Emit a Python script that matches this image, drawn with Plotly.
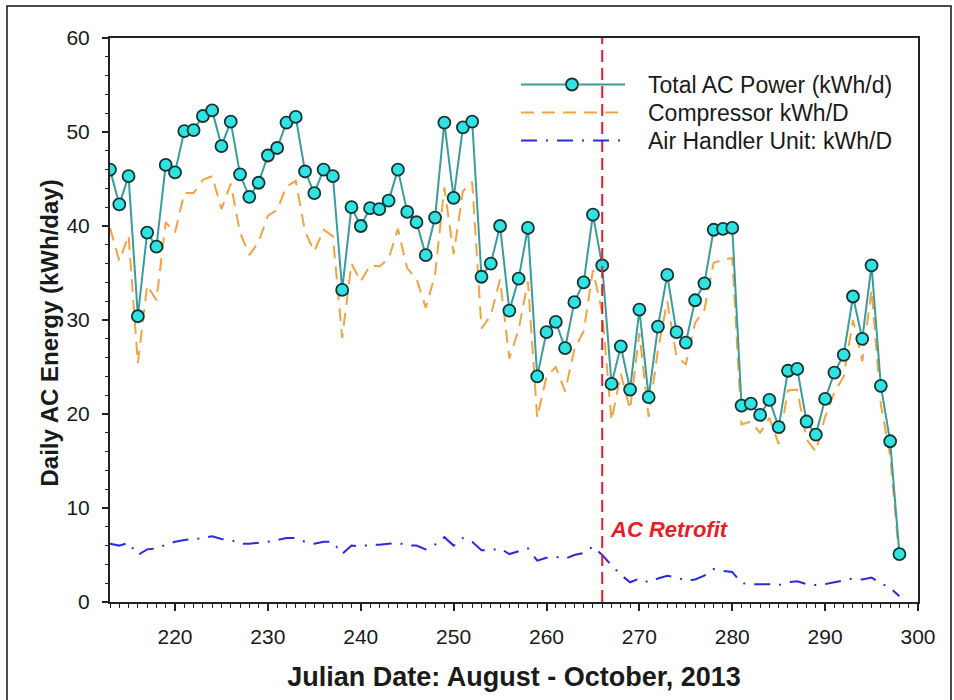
import plotly.graph_objects as go

# Julian day of each daily reading (Aug 1 - Oct 25, 2013)
days = list(range(213, 299))

# Daily totals, kWh/day
total_ac = [
    46.0, 42.3, 45.3, 30.4, 39.3, 37.8, 46.5, 45.7, 50.1, 50.2,
    51.7, 52.3, 48.5, 51.1, 45.5, 43.1, 44.6, 47.5, 48.3, 51.0,
    51.6, 45.8, 43.5, 46.0, 45.3, 33.2, 42.0, 40.0, 41.9, 41.8,
    42.7, 46.0, 41.5, 40.4, 36.9, 40.9, 51.0, 43.0, 50.5, 51.1,
    34.6, 36.0, 40.0, 31.0, 34.4, 39.8, 24.0, 28.7, 29.8, 27.0,
    31.9, 34.0, 41.2, 35.8, 23.2, 27.2, 22.6, 31.1, 21.8, 29.3,
    34.8, 28.7, 27.6, 32.1, 33.9, 39.6, 39.7, 39.8, 20.9, 21.1,
    19.9, 21.5, 18.6, 24.6, 24.8, 19.2, 17.8, 21.6, 24.4, 26.3,
    32.5, 28.0, 35.8, 23.0, 17.1, 5.1,
]

compressor = [
    39.8, 36.3, 39.0, 25.4, 33.7, 32.1, 40.4, 39.3, 43.5, 43.5,
    44.9, 45.3, 41.8, 44.5, 39.3, 36.9, 38.3, 41.1, 41.7, 44.2,
    44.8, 39.4, 37.3, 39.6, 38.9, 28.1, 36.0, 34.1, 35.8, 35.7,
    36.5, 39.7, 35.5, 34.4, 31.3, 34.8, 44.1, 37.0, 43.7, 44.7,
    29.1, 30.5, 34.3, 25.9, 29.0, 34.1, 19.6, 24.0, 25.0, 22.4,
    26.9, 28.8, 35.3, 30.8, 19.3, 24.3, 20.5, 28.6, 19.7, 26.8,
    32.0, 26.1, 25.3, 29.7, 31.1, 36.1, 36.4, 36.6, 18.9, 19.2,
    18.0, 19.6, 16.8, 22.5, 22.6, 17.3, 16.0, 19.7, 22.3, 24.0,
    30.0, 25.6, 33.2, 21.0, 15.6, 4.5,
]

air_handler = [
    6.2, 6.0, 6.3, 5.0, 5.6, 5.7, 6.1, 6.4, 6.6, 6.7,
    6.8, 7.0, 6.7, 6.6, 6.2, 6.2, 6.3, 6.4, 6.6, 6.8,
    6.8, 6.4, 6.2, 6.4, 6.4, 5.1, 6.0, 5.9, 6.1, 6.1,
    6.2, 6.3, 6.0, 6.0, 5.6, 6.1, 6.9, 6.0, 6.8, 6.4,
    5.5, 5.5, 5.7, 5.1, 5.4, 5.7, 4.4, 4.7, 4.8, 4.6,
    5.0, 5.2, 5.9, 5.0, 3.9, 2.9, 2.1, 2.5, 2.1, 2.5,
    2.8, 2.6, 2.3, 2.4, 2.8, 3.5, 3.3, 3.2, 2.0, 1.9,
    1.9, 1.9, 1.8, 2.1, 2.2, 1.9, 1.8, 1.9, 2.1, 2.3,
    2.5, 2.4, 2.6, 2.0, 1.5, 0.6,
]

retrofit_day = 266

series_names = [
    "Total AC Power (kWh/d)",
    "Compressor kWh/D",
    "Air Handler Unit: kWh/D",
]

FONT = "Liberation Sans, Arial, sans-serif"
TEAL = "#3a9c9c"
CYAN = "#2fe3e3"
EDGE = "#163333"
ORANGE = "#f2a442"
BLUE = "#2a2ae0"
RED = "#e61e28"
AHU_DASH = "16px,9px,2px,9px"
COMP_DASH = "13px,8px"

fig = go.Figure()

fig.add_trace(go.Scatter(
    x=days, y=air_handler, mode="lines", name=series_names[2],
    line=dict(color=BLUE, width=2, dash=AHU_DASH), showlegend=False,
))
fig.add_trace(go.Scatter(
    x=days, y=compressor, mode="lines", name=series_names[1],
    line=dict(color=ORANGE, width=2, dash=COMP_DASH), showlegend=False,
))
fig.add_trace(go.Scatter(
    x=days, y=total_ac, mode="lines+markers", name=series_names[0],
    line=dict(color=TEAL, width=2),
    marker=dict(size=12, color=CYAN, line=dict(color=EDGE, width=1.8)),
    showlegend=False,
))

# retrofit marker line
fig.add_shape(type="line", xref="x", yref="paper", x0=retrofit_day, x1=retrofit_day,
              y0=0, y1=1, line=dict(color=RED, width=2, dash="12px,6px"))
fig.add_annotation(x=retrofit_day, xref="x", y=7.7, yref="y", xanchor="left",
                   xshift=6, text="<b><i>AC Retrofit</i></b>", showarrow=False,
                   font=dict(family=FONT, size=22, color=RED))

# legend, drawn in paper space inside the upper right of the plot
PW, PH = 808.0, 564.0
def px_x(px):
    return (px - 110) / PW
def px_y(py):
    return (602 - py) / PH

rows = [84.5, 112.5, 140.5]
styles = [(TEAL, "solid"), (ORANGE, COMP_DASH), (BLUE, AHU_DASH)]
for name, ry, (col, dash) in zip(series_names, rows, styles):
    fig.add_shape(type="line", xref="paper", yref="paper",
                  x0=px_x(521), x1=px_x(625), y0=px_y(ry), y1=px_y(ry),
                  line=dict(color=col, width=2, dash=dash))
    fig.add_annotation(x=px_x(646), y=px_y(ry), xref="paper", yref="paper",
                       xanchor="left", yanchor="middle", text=name, showarrow=False,
                       font=dict(family=FONT, size=23, color="#1a1a1a"))
fig.add_shape(type="circle", xref="paper", yref="paper",
              x0=px_x(566), x1=px_x(578), y0=px_y(rows[0] + 6), y1=px_y(rows[0] - 6),
              fillcolor=CYAN, line=dict(color=EDGE, width=1.8))

# outer frame around the whole figure
fig.add_shape(type="rect", xref="paper", yref="paper",
              x0=px_x(7), x1=px_x(951), y0=px_y(720), y1=px_y(6),
              line=dict(color="#111111", width=1.5), fillcolor="rgba(0,0,0,0)")

# y-axis title
fig.add_annotation(x=px_x(33), y=px_y(333), xref="paper", yref="paper",
                   text="<b>Daily AC Energy (kWh/day)</b>", textangle=-90,
                   showarrow=False, font=dict(family=FONT, size=24, color="#1a1a1a"))

axis_common = dict(
    showline=True, linecolor="#222222", linewidth=2, mirror=True,
    showgrid=False, zeroline=False, ticks="outside", tickcolor="#222222",
    tickwidth=1.5, tickfont=dict(family=FONT, size=21, color="#1a1a1a"),
)

fig.update_xaxes(
    range=[213, 300], tick0=200, dtick=10, ticklen=7, ticklabelstandoff=8,
    minor=dict(dtick=1, ticklen=4, ticks="outside", tickcolor="#222222", tickwidth=1.4),
    title=dict(text="<b>Julian Date: August - October, 2013</b>", standoff=20,
               font=dict(family=FONT, size=27, color="#1a1a1a")),
    **axis_common,
)
fig.update_yaxes(
    range=[0, 60], tick0=0, dtick=10, ticklen=6, ticklabelstandoff=8,
    minor=dict(dtick=2, ticklen=3, ticks="outside", tickcolor="#222222", tickwidth=1.4),
    **axis_common,
)

fig.update_layout(
    width=954, height=700,
    margin=dict(l=110, r=36, t=38, b=98),
    paper_bgcolor="white", plot_bgcolor="white",
    font=dict(family=FONT),
    showlegend=False,
)

fig.write_html("out.html")
